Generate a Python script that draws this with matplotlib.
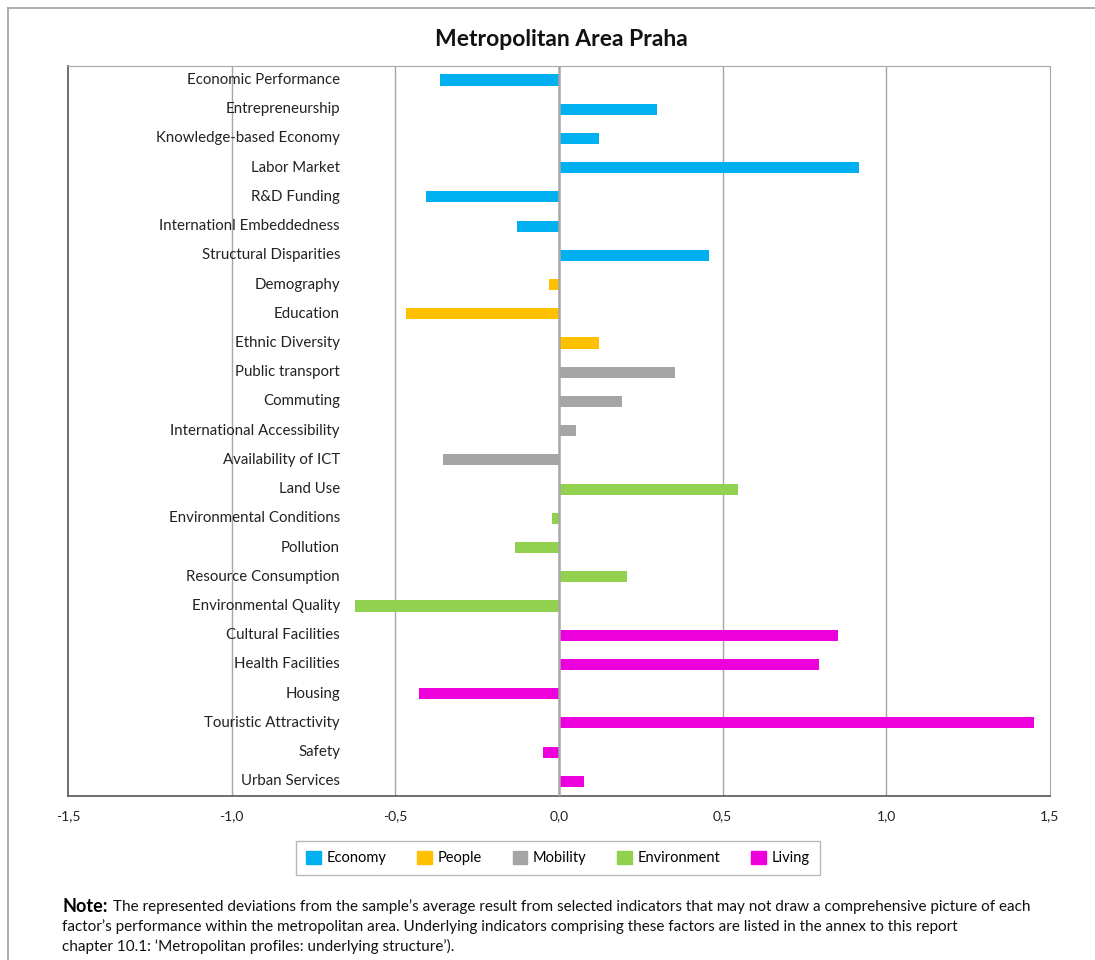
import matplotlib
matplotlib.use("Agg")
import matplotlib.pyplot as plt
from matplotlib.patches import Rectangle
from matplotlib.lines import Line2D

plt.rcParams['font.family'] = ['Lato', 'DejaVu Sans']

categories = ["Economic Performance", "Entrepreneurship", "Knowledge-based Economy",
              "Labor Market", "R&D Funding", "Internationl Embeddedness",
              "Structural Disparities", "Demography", "Education", "Ethnic Diversity",
              "Public transport", "Commuting", "International Accessibility",
              "Availability of ICT", "Land Use", "Environmental Conditions", "Pollution",
              "Resource Consumption", "Environmental Quality", "Cultural Facilities",
              "Health Facilities", "Housing", "Touristic Attractivity", "Safety",
              "Urban Services"]
values = [-0.364, 0.30, 0.122, 0.917, -0.406, -0.128, 0.458,
          -0.03, -0.467, 0.122,
          0.354, 0.193, 0.052, -0.354,
          0.547, -0.021, -0.134, 0.208, -0.623,
          0.852, 0.794, -0.428, 1.451, -0.049, 0.076]
groups = ["Economy"] * 7 + ["People"] * 3 + ["Mobility"] * 4 + ["Environment"] * 5 + ["Living"] * 6
group_names = ["Economy", "People", "Mobility", "Environment", "Living"]
group_colors = {"Economy": "#00B0F0", "People": "#FFC000", "Mobility": "#A5A5A5",
                "Environment": "#92D050", "Living": "#EE00DD"}
xticks = [-1.5, -1.0, -0.5, 0.0, 0.5, 1.0, 1.5]
xticklabels = ["-1,5", "-1,0", "-0,5", "0,0", "0,5", "1,0", "1,5"]

fig = plt.figure(figsize=(10.95, 9.6), dpi=100)
# outer frame
fig.add_artist(Line2D([8/1095, 8/1095], [0, 1 - 8/960], transform=fig.transFigure, color="#A0A0A0", lw=1.2))
fig.add_artist(Line2D([8/1095, 1], [1 - 8/960, 1 - 8/960], transform=fig.transFigure, color="#A0A0A0", lw=1.2))

ax = fig.add_axes([68/1095, 1 - 796/960, (1050 - 68)/1095, (796 - 66)/960])
ypos = list(range(len(categories)))
ax.barh(ypos, values, height=0.38, color=[group_colors[g] for g in groups], zorder=3)
ax.set_xlim(-1.5, 1.5)
ax.set_ylim(len(categories) - 0.5, -0.48)
ax.set_yticks([])
ax.set_xticks(xticks)
ax.set_xticklabels(xticklabels, fontsize=10, color="#222222")
ax.tick_params(axis='x', length=0, pad=10)
for x in [-1.0, -0.5, 0.5, 1.0]:
    ax.axvline(x, color="#A6A6A6", lw=1, zorder=1)
ax.axvline(0, color="#A6A6A6", lw=1.8, zorder=4)
for s in ["top", "right"]:
    ax.spines[s].set_color("#A6A6A6")
for s in ["left", "bottom"]:
    ax.spines[s].set_color("#555555")
    ax.spines[s].set_linewidth(1.2)

for y, c in zip(ypos, categories):
    ax.text((340 - 68) / (1050 - 68), y, c, transform=ax.get_yaxis_transform(),
            ha="right", va="center", fontsize=10.8, color="#222222", zorder=5)

fig.text(561/1095, 1 - 40/960, "Metropolitan Area Praha", ha="center", va="center",
         fontsize=16.5, fontweight="bold", color="#111111")

handles = [Rectangle((0, 0), 1, 1, color=group_colors[g]) for g in group_names]
leg = fig.legend(handles, group_names, loc="center", bbox_to_anchor=(558/1095, 1 - 858/960),
                 ncol=5, frameon=True, fancybox=False, fontsize=10.5, handlelength=1.0,
                 handleheight=1.0, handletextpad=0.4, columnspacing=2.1, borderpad=0.7)
leg.get_frame().set_edgecolor("#A6A6A6")
leg.get_frame().set_linewidth(1.0)

fig.text(62/1095, 1 - 906/960, "Note:", fontsize=13, fontweight="bold", va="center", ha="left")
note1 = ("The represented deviations from the sample\u2019s average result from selected indicators that may not draw a comprehensive picture of each")
note2 = ("factor\u2019s performance within the metropolitan area. Underlying indicators comprising these factors are listed in the annex to this report")
note3 = "chapter 10.1: \u2018Metropolitan profiles: underlying structure\u2019)."
fig.text(113/1095, 1 - 907/960, note1, fontsize=11, va="center", ha="left", color="#111111")
fig.text(62/1095, 1 - 927/960, note2, fontsize=11, va="center", ha="left", color="#111111")
fig.text(62/1095, 1 - 946/960, note3, fontsize=11, va="center", ha="left", color="#111111")

fig.savefig("out.png", dpi=100)
